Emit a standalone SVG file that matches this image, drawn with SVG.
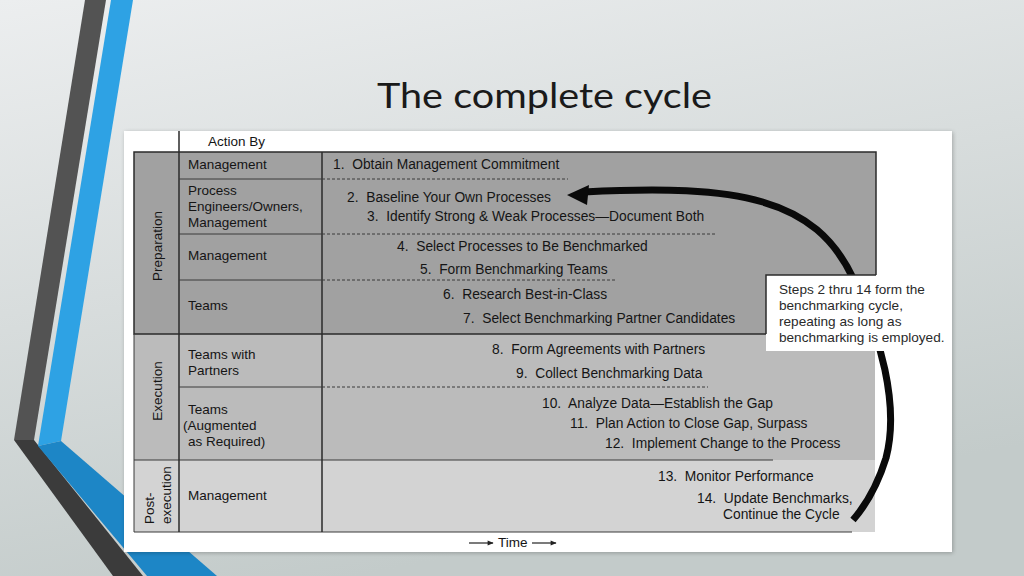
<svg xmlns="http://www.w3.org/2000/svg" width="1024" height="576" viewBox="0 0 1024 576">
<defs>
<linearGradient id="bg" x1="0" y1="0" x2="0.35" y2="1">
<stop offset="0" stop-color="#eceeef"/>
<stop offset="1" stop-color="#c3cbca"/>
</linearGradient>
<filter id="sh" x="-5%" y="-5%" width="110%" height="110%">
<feGaussianBlur in="SourceAlpha" stdDeviation="2"/>
<feOffset dx="1" dy="1"/>
<feComponentTransfer><feFuncA type="linear" slope="0.25"/></feComponentTransfer>
<feMerge><feMergeNode/><feMergeNode in="SourceGraphic"/></feMerge>
</filter>
<marker id="ta" viewBox="0 0 10 10" refX="9" refY="5" markerWidth="8" markerHeight="6" markerUnits="userSpaceOnUse" orient="auto">
<path d="M0,1 L10,5 L0,9 Z" fill="#222"/>
</marker>
</defs>
<style>
.t{font-family:"Liberation Sans",Arial,sans-serif;font-size:13.5px;fill:#151515}
.s{font-family:"Liberation Sans",Arial,sans-serif;font-size:13.8px;fill:#151515}
.c{font-family:"Liberation Sans",Arial,sans-serif;font-size:13.6px;fill:#2a2a2a}
.solid{stroke:#2b2b2b;stroke-width:1.5;fill:none}
.thin{stroke:#3a3a3a;stroke-width:1;fill:none}
.dash{stroke:#3a3a3a;stroke-width:1;stroke-dasharray:3 2;fill:none}
</style>
<rect width="1024" height="576" fill="url(#bg)"/>
<g id="stripes">
<polygon points="85,0 106,0 34,440 14,440" fill="#535353"/>
<polygon points="14,440 34,440 143,576 113,576" fill="#3b3b3b"/>
<polygon points="111,0 133,0 61,441 38,446" fill="#2ea2e4"/>
<polygon points="38,446 61,441 217,576 147,576" fill="#1d86c6"/>
</g>
<text x="377" y="108" font-family="Lato,'Open Sans',sans-serif" font-size="34" fill="#1a1a1a" textLength="335" lengthAdjust="spacingAndGlyphs">The complete cycle</text>
<rect id="panel" x="124" y="131" width="828" height="421" fill="#ffffff" filter="url(#sh)"/>
<g id="phase-fills">
<rect x="134" y="152" width="742" height="182" fill="#a1a1a1"/>
<rect x="134" y="334" width="741" height="126" fill="#bbbbbb"/>
<rect x="134" y="460" width="741" height="72" fill="#d3d3d3"/>
</g>
<g id="grid">
<path class="solid" d="M876,275 V152 H134 V334 H766"/>
<path class="thin" d="M134,334 V532 M134,460 H773 M134,532 H852"/>
<path class="solid" d="M179,131 V532 M322,152 V532"/>
<path class="thin" d="M179,179 H322 M179,234 H322 M179,280 H322 M179,387 H322"/>
<path class="dash" d="M322,179 H568 M322,234 H715 M322,280 H615 M322,387 H708"/>
</g>
<g id="connectors">
<path d="M584,192 C740,184 815,198 853,278 C880,335 900,405 886,458 C877,487 866,505 853,520" fill="none" stroke="#0a0a0a" stroke-width="7"/>
<polygon points="567,195 589,185 587,205" fill="#0a0a0a"/>
<line x1="469" y1="543" x2="493" y2="543" stroke="#222" stroke-width="1.2" marker-end="url(#ta)"/>
<line x1="532" y1="543" x2="556" y2="543" stroke="#222" stroke-width="1.2" marker-end="url(#ta)"/>
</g>
<g id="callout">
<rect x="766" y="275" width="184" height="76" fill="#ffffff"/>
<path class="solid" d="M876,275 H766 V334"/>
<text class="c" x="779" y="294">Steps 2 thru 14 form the</text>
<text class="c" x="779" y="310">benchmarking cycle,</text>
<text class="c" x="779" y="326">repeating as long as</text>
<text class="c" x="779" y="342">benchmarking is employed.</text>
</g>
<g id="phase-labels">
<text class="t" transform="translate(162,246) rotate(-90)" text-anchor="middle">Preparation</text>
<text class="t" transform="translate(162,391) rotate(-90)" text-anchor="middle">Execution</text>
<text class="t" transform="translate(154,524) rotate(-90)">Post-</text>
<text class="t" transform="translate(171,524) rotate(-90)">execution</text>
</g>
<g id="actors">
<text class="t" x="208" y="146">Action By</text>
<text class="t" x="188" y="169">Management</text>
<text class="t" x="188" y="195">Process</text>
<text class="t" x="188" y="211">Engineers/Owners,</text>
<text class="t" x="188" y="227">Management</text>
<text class="t" x="188" y="260">Management</text>
<text class="t" x="188" y="310">Teams</text>
<text class="t" x="188" y="359">Teams with</text>
<text class="t" x="188" y="375">Partners</text>
<text class="t" x="188" y="414">Teams</text>
<text class="t" x="183" y="430">(Augmented</text>
<text class="t" x="188" y="446">as Required)</text>
<text class="t" x="188" y="500">Management</text>
</g>
<g id="steps">
<text class="s" x="333" y="169">1.&#160; Obtain Management Commitment</text>
<text class="s" x="347" y="202">2.&#160; Baseline Your Own Processes</text>
<text class="s" x="367" y="221">3.&#160; Identify Strong &amp; Weak Processes—Document Both</text>
<text class="s" x="397" y="251">4.&#160; Select Processes to Be Benchmarked</text>
<text class="s" x="420" y="274">5.&#160; Form Benchmarking Teams</text>
<text class="s" x="443" y="299">6.&#160; Research Best-in-Class</text>
<text class="s" x="463" y="323">7.&#160; Select Benchmarking Partner Candidates</text>
<text class="s" x="492" y="354">8.&#160; Form Agreements with Partners</text>
<text class="s" x="516" y="378">9.&#160; Collect Benchmarking Data</text>
<text class="s" x="542" y="408">10.&#160; Analyze Data—Establish the Gap</text>
<text class="s" x="570" y="428">11.&#160; Plan Action to Close Gap, Surpass</text>
<text class="s" x="605" y="448">12.&#160; Implement Change to the Process</text>
<text class="s" x="658" y="481">13.&#160; Monitor Performance</text>
<text class="s" x="697" y="503">14.&#160; Update Benchmarks,</text>
<text class="s" x="723" y="519">Continue the Cycle</text>
<text class="t" x="498" y="547">Time</text>
</g>
</svg>
